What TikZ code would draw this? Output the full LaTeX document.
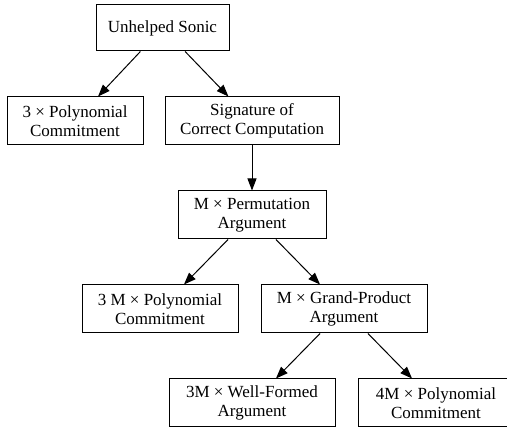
\documentclass[tikz,border=0pt]{standalone}
\usepackage{fontspec}
\setmainfont{Liberation Serif}
\usetikzlibrary{arrows.meta}

\tikzset{
	gvbox/.style={draw,line width=1pt,align=center,inner sep=0pt,minimum height=48pt,font=\rmfamily\fontsize{17}{19}\selectfont},
	gvedge/.style={line width=1pt,-{Triangle[length=12pt,width=9pt]}}
}

\begin{document}
\begin{tikzpicture}[x=1pt,y=-1pt]
	\clip (0,0) rectangle (507,427);

	\node [gvbox,minimum width=133pt,minimum height=46pt] (sonic) at (162.5,28) {Unhelped Sonic};
	\node [gvbox,minimum width=136pt] (poly3) at (75,121) {3 × Polynomial\\Commitment};
	\node [gvbox,minimum width=174pt] (sig) at (252,121) {Signature of\\Correct Computation};
	\node [gvbox,minimum width=148pt] (perm) at (252,215) {M × Permutation\\Argument};
	\node [gvbox,minimum width=156pt] (polyM) at (160,309) {3 M × Polynomial\\Commitment};
	\node [gvbox,minimum width=166pt] (grand) at (344,309) {M × Grand-Product\\Argument};
	\node [gvbox,minimum width=166pt] (wellf) at (252,403) {3M × Well-Formed\\Argument};
	\node [gvbox,minimum width=156pt] (poly4M) at (436,403) {4M × Polynomial\\Commitment};

	\foreach \a/\b in {sonic/poly3, sonic/sig, sig/perm, perm/polyM, perm/grand, grand/wellf, grand/poly4M}
	{
		\draw [gvedge] (\a) -- (\b);
	}

\end{tikzpicture}
\end{document}
